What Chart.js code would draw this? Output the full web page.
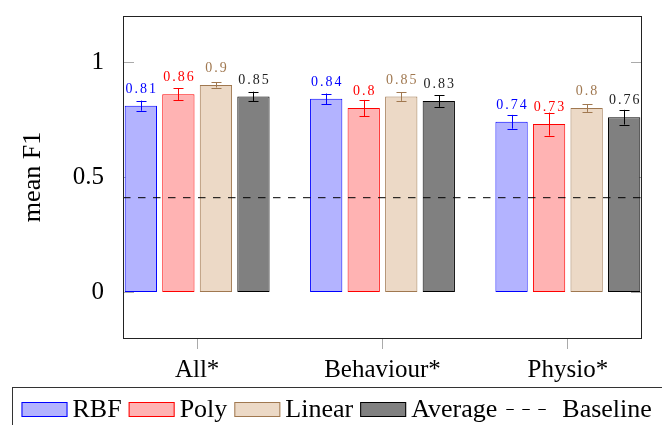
<!DOCTYPE html>
<html lang="en">
<head>
    <meta charset="UTF-8">
    <script src="https://cdn.jsdelivr.net/npm/chart.js"></script>
    <title>mean F1</title>
    <style>
      body { margin: 0; background: #fff; }
    </style>
</head>
<body>
  <canvas id="f1Chart" width="662" height="425"></canvas>

  <script>
    const categories = ['All*', 'Behaviour*', 'Physio*'];
    const rbf = [0.81, 0.84, 0.74];
    const rbfErr = [0.022, 0.023, 0.03];
    const poly = [0.86, 0.8, 0.73];
    const polyErr = [0.027, 0.035, 0.05];
    const linear = [0.9, 0.85, 0.8];
    const linearErr = [0.011, 0.019, 0.017];
    const average = [0.85, 0.83, 0.76];
    const averageErr = [0.021, 0.025, 0.032];
    const baseline = 0.41;
    const yTicks = [0, 0.5, 1];

    const xMin = -0.4, xMax = 2.4;

    const toPoints = vals => vals.map((v, i) => ({ x: i, y: v }));

    function barSet(label, vals, errs, fill, stroke, textColor) {
      return {
        label: label,
        data: toPoints(vals),
        errors: errs,
        textColor: textColor,
        backgroundColor: fill,
        borderColor: stroke,
        borderWidth: 1,
        borderSkipped: false,
        categoryPercentage: 0.81,
        barPercentage: 0.86,
        order: 1
      };
    }

    Chart.defaults.font.family = 'Liberation Serif';
    Chart.defaults.color = '#000';

    // frame + inward y ticks
    const framePlugin = {
      id: 'frame',
      beforeDatasetsDraw(chart) {
        const { ctx, chartArea: a, scales: { y } } = chart;
        ctx.save();
        ctx.strokeStyle = '#aaa';
        ctx.lineWidth = 1;
        yTicks.forEach(t => {
          const py = Math.round(y.getPixelForValue(t)) + 0.5;
          ctx.beginPath();
          ctx.moveTo(a.left, py); ctx.lineTo(a.left + 11, py);
          ctx.moveTo(a.right - 11, py); ctx.lineTo(a.right, py);
          ctx.stroke();
        });
        ctx.restore();
      },
      afterDraw(chart) {
        const { ctx, chartArea: a } = chart;
        ctx.save();
        ctx.strokeStyle = '#222';
        ctx.lineWidth = 1;
        ctx.strokeRect(Math.round(a.left) + 0.5, Math.round(a.top) + 0.5,
          Math.round(a.right - a.left) - 1, Math.round(a.bottom - a.top));
        ctx.restore();
      }
    };

    // error bars and value labels above bars
    const errorPlugin = {
      id: 'errors',
      afterDatasetsDraw(chart) {
        const { ctx, scales: { y } } = chart;
        chart.data.datasets.forEach((ds, di) => {
          if (!ds.errors) return;
          const meta = chart.getDatasetMeta(di);
          meta.data.forEach((bar, i) => {
            const v = ds.data[i].y, e = ds.errors[i];
            const x = Math.round(bar.x) + 0.5;
            const y1 = y.getPixelForValue(v + e), y2 = y.getPixelForValue(v - e);
            ctx.save();
            ctx.strokeStyle = ds.borderColor;
            ctx.lineWidth = 1;
            ctx.beginPath();
            ctx.moveTo(x, y1); ctx.lineTo(x, y2);
            ctx.moveTo(x - 5, Math.round(y1) + 0.5); ctx.lineTo(x + 5, Math.round(y1) + 0.5);
            ctx.moveTo(x - 5, Math.round(y2) + 0.5); ctx.lineTo(x + 5, Math.round(y2) + 0.5);
            ctx.stroke();
            ctx.font = '14px "Liberation Serif"';
            ctx.letterSpacing = '2px';
            ctx.fillStyle = ds.textColor;
            ctx.textAlign = 'center';
            ctx.textBaseline = 'alphabetic';
            ctx.fillText(String(v), bar.x + 1, bar.y - 13);
            ctx.restore();
          });
        });
      }
    };

    // legend in a box under the axis
    const legendPlugin = {
      id: 'boxLegend',
      afterDraw(chart) {
        const { ctx } = chart;
        const top = 387.5;
        ctx.save();
        ctx.strokeStyle = '#333';
        ctx.lineWidth = 1;
        ctx.strokeRect(12.5, top, 700, 60);
        ctx.font = '26px "Liberation Serif"';
        ctx.textBaseline = 'alphabetic';
        ctx.fillStyle = '#000';
        let x = 21.5;
        chart.data.datasets.forEach(ds => {
          if (ds.type === 'line') {
            ctx.setLineDash([7.5, 8.5]);
            ctx.strokeStyle = '#000';
            ctx.beginPath();
            ctx.moveTo(x + 2, 409.5); ctx.lineTo(x + 42, 409.5);
            ctx.stroke();
            ctx.setLineDash([]);
            x += 58;
          } else {
            ctx.fillStyle = ds.backgroundColor;
            ctx.fillRect(x, 402, 46, 15);
            ctx.strokeStyle = ds.borderColor;
            ctx.strokeRect(x + 0.5, 402.5, 45, 14);
            x += 51;
          }
          ctx.fillStyle = '#000';
          ctx.fillText(ds.label, x, 417);
          x += ctx.measureText(ds.label).width + 7;
        });
        ctx.restore();
      }
    };

    new Chart(document.getElementById('f1Chart'), {
      type: 'bar',
      data: {
        datasets: [
          barSet('RBF', rbf, rbfErr, '#b3b3ff', '#0000ff', '#0000ff'),
          barSet('Poly', poly, polyErr, '#ffb3b3', '#ff0000', '#ff0000'),
          barSet('Linear', linear, linearErr, '#ecd9c6', '#a07850', '#a07850'),
          barSet('Average', average, averageErr, '#808080', '#000000', '#222222'),
          {
            type: 'line',
            label: 'Baseline',
            data: [{ x: xMin, y: baseline }, { x: xMax, y: baseline }],
            borderColor: '#000',
            borderWidth: 1,
            borderDash: [7.5, 7.5],
            pointRadius: 0,
            fill: false,
            order: 0
          }
        ]
      },
      options: {
        responsive: false,
        animation: false,
        layout: { padding: { top: 16, right: 20, bottom: 37, left: 0 } },
        plugins: {
          legend: { display: false },
          tooltip: { enabled: false }
        },
        scales: {
          x: {
            type: 'linear',
            min: xMin,
            max: xMax,
            offset: false,
            afterBuildTicks: s => { s.ticks = categories.map((c, i) => ({ value: i })); },
            afterFit: s => { s.height = 50; s.paddingLeft = 0; s.paddingRight = 0; },
            ticks: {
              callback: v => categories[v],
              font: { size: 25 },
              padding: 6,
              maxRotation: 0
            },
            grid: { offset: false, drawOnChartArea: false, tickLength: 11, color: '#aaa' },
            border: { display: false }
          },
          y: {
            min: -0.2,
            max: 1.2,
            afterBuildTicks: s => { s.ticks = yTicks.map(v => ({ value: v })); },
            afterFit: s => { s.width = 123; s.paddingTop = 0; s.paddingBottom = 0; },
            ticks: { font: { size: 25 }, padding: 11, callback: v => String(v) },
            grid: { display: false },
            border: { display: false },
            title: {
              display: true,
              text: 'mean F1',
              font: { size: 26 },
              padding: { top: 18, bottom: 0 }
            }
          }
        }
      },
      plugins: [framePlugin, errorPlugin, legendPlugin]
    });
  </script>
</body>
</html>
